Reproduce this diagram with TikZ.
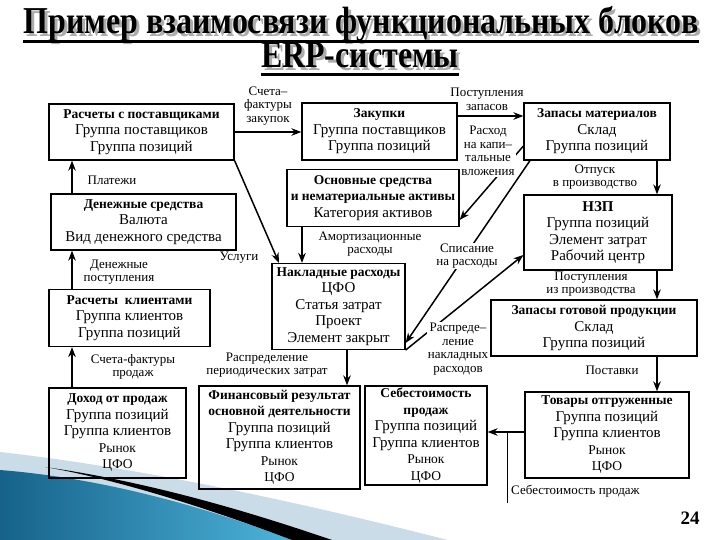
\documentclass[tikz,border=0pt]{standalone}
\usepackage{fontspec}
\setmainfont{Liberation Serif}
\usetikzlibrary{arrows.meta}
\newcommand{\bhd}[1]{{\fontsize{13.5}{16.5}\selectfont\bfseries #1}}
\newcommand{\smr}[1]{{\fontsize{13.5}{16.5}\selectfont #1}}
\definecolor{tealA}{HTML}{16628A}
\definecolor{tealB}{HTML}{4DB3DA}
\definecolor{paleB}{HTML}{C9DCE7}
\begin{document}
\begin{tikzpicture}[x=1pt,y=-1pt,
  box/.style={draw, line width=1.2pt, inner sep=0pt, align=center, font=\fontsize{15}{16.5}\selectfont},
  arr/.style={line width=1.8pt, -{Stealth[length=10pt,width=7.5pt]}},
  darr/.style={line width=1.5pt, -{Stealth[length=10pt,width=7.5pt]}},
  lbl/.style={align=center, font=\fontsize{13}{13.5}\selectfont, inner sep=1pt},
  wl/.style={lbl, fill=white},
  ttl/.style={inner sep=0pt, anchor=base, font=\fontsize{38}{38}\selectfont\bfseries}
]
\useasboundingbox (0,0) rectangle (720,540);
% background swoosh
\fill[paleB] (0,452) .. controls (160,470) and (330,510) .. (448,540) -- (0,540) -- cycle;
\shade[left color=tealA, right color=tealB] (0,470) .. controls (100,478) and (200,505) .. (292,540) -- (0,540) -- cycle;
\fill[black] (45,467) .. controls (150,482) and (250,512) .. (332,540) -- (292,540) .. controls (200,505) and (110,478) .. (45,467) -- cycle;
% title
\node[ttl, text=gray!65] (t1s) at (364,36.5) {\scalebox{0.84}[1]{Пример взаимосвязи функциональных блоков}};
\node[ttl] (t1) at (361,34) {\scalebox{0.84}[1]{Пример взаимосвязи функциональных блоков}};
\node[ttl, text=gray!65] (t2s) at (363,70.5) {\scalebox{0.84}[1]{ERP-системы}};
\node[ttl] (t2) at (360,68) {\scalebox{0.84}[1]{ERP-системы}};
\coordinate (u1) at (0,41.5);
\coordinate (u2) at (0,74.5);
\draw[line width=2.5pt] (t1.west |- u1) -- (t1.east |- u1);
\draw[line width=2.5pt] (t2.west |- u2) -- (t2.east |- u2);
% boxes
\node[box, minimum width=185pt, minimum height=56pt] (A) at (141.5,132) {\bhd{Расчеты с поставщиками}\\Группа поставщиков\\Группа позиций};
\node[box, minimum width=155pt, minimum height=57pt] (B) at (379.5,131.5) {\bhd{Закупки}\\Группа поставщиков\\Группа позиций};
\node[box, minimum width=146pt, minimum height=57pt] (C) at (597,131.5) {\bhd{Запасы материалов}\\Склад\\Группа позиций};
\node[box, minimum width=172pt, minimum height=57pt] (D) at (373,198) {\bhd{Основные средства}\\\bhd{и нематериальные активы}\\Категория активов};
\node[box, minimum width=185pt, minimum height=56pt] (E) at (143.5,222) {\bhd{Денежные средства}\\Валюта\\Вид денежного средства};
\node[box, minimum width=148pt, minimum height=75pt] (L) at (598,232.5) {{\fontsize{15}{16.5}\selectfont\bfseries НЗП}\\Группа позиций\\Элемент затрат\\Рабочий центр};
\node[box, minimum width=133pt, minimum height=86pt] (M) at (338.5,306.5) {\bhd{Накладные расходы}\\ЦФО\\Статья затрат\\Проект\\Элемент закрыт};
\node[box, minimum width=161pt, minimum height=57pt] (F) at (129.5,318) {\bhd{Расчеты\ \ клиентами}\\Группа клиентов\\Группа позиций};
\node[box, minimum width=206pt, minimum height=56pt] (K) at (594,328) {\bhd{Запасы готовой продукции}\\Склад\\Группа позиций};
\node[box, minimum width=137pt, minimum height=90pt] (G) at (117.5,433) {\bhd{Доход от продаж}\\Группа позиций\\Группа клиентов\\\smr{Рынок}\\\smr{ЦФО}};
\node[box, minimum width=161pt, minimum height=103pt] (H) at (279.5,437.5) {\bhd{Финансовый результат}\\\bhd{основной деятельности}\\Группа позиций\\Группа клиентов\\\smr{Рынок}\\\smr{ЦФО}};
\node[box, minimum width=122pt, minimum height=99pt] (I) at (426,435.5) {\bhd{Себестоимость}\\\bhd{продаж}\\Группа позиций\\Группа клиентов\\\smr{Рынок}\\\smr{ЦФО}};
\node[box, minimum width=164pt, minimum height=86pt] (J) at (607,435) {\bhd{Товары отгруженные}\\Группа позиций\\Группа клиентов\\\smr{Рынок}\\\smr{ЦФО}};
% helper coordinates
\coordinate (xl) at (72,0);
\coordinate (xr) at (657,0);
\coordinate (xd) at (302,0);
\coordinate (xm) at (347,0);
\coordinate (am) at (279,0);
\coordinate (cs) at (530,0);
\coordinate (vx) at (507,0);
\coordinate (yab) at (0,132);
\coordinate (ybc) at (0,116);
\coordinate (cdy) at (0,146);
\coordinate (cdt) at (0,220);
\coordinate (ms) at (0,343);
\coordinate (lr) at (0,255);
\coordinate (ji) at (0,432);
\coordinate (vend) at (0,503);
% connectors
\draw[arr] (xl |- E.north) -- (xl |- A.south);
\draw[arr] (xl |- F.north) -- (xl |- E.south);
\draw[arr] (xl |- G.north) -- (xl |- F.south);
\draw[arr] (A.east |- yab) -- (B.west |- yab);
\draw[arr] (B.east |- ybc) -- (C.west |- ybc);
\draw[arr] (xr |- C.south) -- (xr |- L.north);
\draw[arr] (xr |- L.south) -- (xr |- K.north);
\draw[arr] (xr |- K.south) -- (xr |- J.north);
\draw[arr] (xd |- D.south) -- (xd |- M.north);
\draw[arr] (xm |- M.south) -- (xm |- H.north);
\draw[darr] (A.south east) -- (am |- M.north);
\draw[darr] (C.west |- cdy) -- (D.east |- cdt);
\draw[darr] (cs |- C.south) -- (M.east |- ms);
\draw[darr] (M.south east) -- (L.west |- lr);
\draw[arr] (J.west |- ji) -- (I.east |- ji);
\draw[line width=0.8pt] (vx |- ji) -- (vx |- vend);
% labels
\node[lbl] (lp) at (112,180) {Платежи};
\node[lbl] (ldp) at (119,272) {Денежные\\поступления};
\node[lbl] (lsf) at (133,367) {Счета-фактуры\\продаж};
\node[lbl] (lsz) at (268,106) {Счета–\\фактуры\\закупок};
\node[lbl] (lpz) at (487,99.5) {Поступления\\запасов};
\node[wl] (lrk) at (488,151) {Расход\\на капи–\\тальные\\вложения};
\node[lbl] (lop) at (595,177) {Отпуск\\в производство};
\node[lbl] (lam) at (370,244) {Амортизационные\\расходы};
\node[lbl] (lus) at (239,258) {Услуги};
\node[wl] (lsr) at (467,256) {Списание\\на расходы};
\node[lbl] (lpp) at (591,284) {Поступления\\из производства};
\node[wl] (lrn) at (458,349) {Распреде–\\ление\\накладных\\расходов};
\node[lbl] (lpzt) at (267,365) {Распределение\\периодических затрат};
\node[lbl] (lpst) at (612,370) {Поставки};
\node[lbl, anchor=west] (lsp) at (510,491) {Себестоимость продаж};
\node[font=\fontsize{19}{19}\selectfont\bfseries, inner sep=0pt] (pg) at (690,518) {24};
\end{tikzpicture}
\end{document}
